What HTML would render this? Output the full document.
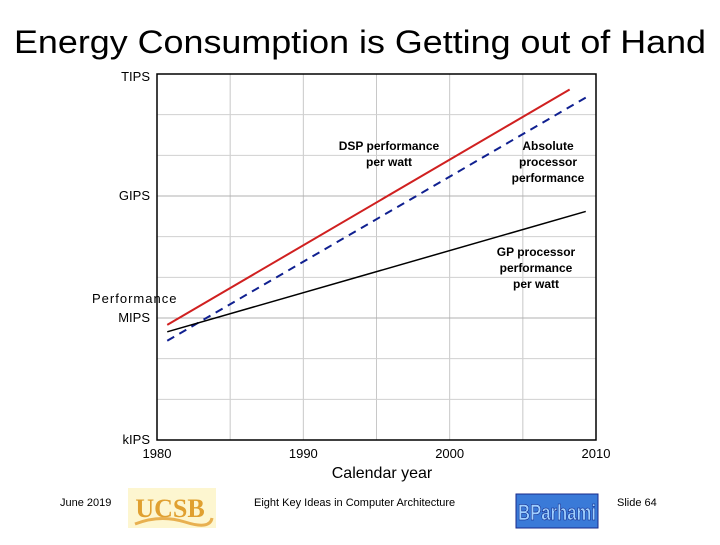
<!DOCTYPE html>
<html><head><meta charset="utf-8"><style>
body{margin:0;width:720px;height:540px;background:#fff;overflow:hidden;font-family:"Liberation Sans",sans-serif;}
</style></head><body>
<svg width="720" height="540" xmlns="http://www.w3.org/2000/svg" font-family="Liberation Sans, sans-serif">
<text x="360" y="53" text-anchor="middle" font-size="32" textLength="692" lengthAdjust="spacingAndGlyphs" fill="#000">Energy Consumption is Getting out of Hand</text>
<g id="grid"></g>
<rect x="157" y="74" width="439" height="366" fill="none" stroke="#000" stroke-width="1.5"/>
<g id="yt"></g>
<g id="xt"></g>
<g id="series"></g>
<text x="382" y="478" text-anchor="middle" font-size="16">Calendar year</text>
<text x="92" y="303" font-size="13" letter-spacing="1">Performance</text>
<g font-size="12" font-weight="bold" text-anchor="middle">
<text x="389" y="150"><tspan x="389">DSP performance</tspan><tspan x="389" dy="16">per watt</tspan></text>
<text x="548" y="150"><tspan x="548">Absolute</tspan><tspan x="548" dy="16">processor</tspan><tspan x="548" dy="16">performance</tspan></text>
<text x="536" y="256"><tspan x="536">GP processor</tspan><tspan x="536" dy="16">performance</tspan><tspan x="536" dy="16">per watt</tspan></text>
</g>
<g font-size="11">
<text x="60" y="506">June 2019</text>
<text x="254" y="506">Eight Key Ideas in Computer Architecture</text>
<text x="617" y="506">Slide 64</text>
</g>
<g>
<rect x="128" y="488" width="88" height="40" fill="#fdf6d0"/>
<text x="170" y="517" text-anchor="middle" font-family="Liberation Serif, serif" font-weight="bold" font-size="26" fill="#e0a030">UCSB</text>
<path d="M135 524 Q160 514 185 522 T212 518" stroke="#e8b050" stroke-width="3" fill="none"/>
</g>
<g>
<rect x="516" y="494" width="82" height="34" fill="#3a7ad8" stroke="#1a2a8a"/>
<text x="557" y="520" text-anchor="middle" font-size="22" font-weight="bold" textLength="78" lengthAdjust="spacingAndGlyphs" fill="#9fd0ff" stroke="#102080" stroke-width="0.6">BParhami</text>
</g>
</svg>
<script>
const yearTicks=[1980,1990,2000,2010];
const yLabels=["kIPS","MIPS","GIPS","TIPS"];
const yLogs=[3,6,9,12];
const seriesNames=["dsp-per-watt","absolute-performance","gp-per-watt"];
const startYears=[1980.7,1980.7,1980.7];
const endYears=[2008.2,2009.3,2009.3];
const startVals=[5.83,5.44,5.66];
const endVals=[11.62,11.42,8.62];
const NS="http://www.w3.org/2000/svg";
const X=y=>157+(y-1980)*(439/30);
const Y=v=>440-(v-3)*(366/9);
function mk(t,a,p){const e=document.createElementNS(NS,t);for(const k in a)e.setAttribute(k,a[k]);p.appendChild(e);return e;}
const grid=document.getElementById('grid');
for(let yr=1985;yr<2010;yr+=5){const l=mk('line',{x1:X(yr),x2:X(yr),y1:74,y2:440,stroke:'#c8c8c8'},grid);

}
for(let v=4;v<12;v++){const l=mk('line',{x1:157,x2:596,y1:Y(v),y2:Y(v),stroke:v%3==0?'#b0b0b0':'#d0d0d0'},grid);

}
const yt=document.getElementById('yt');
yLabels.forEach((s,i)=>{const t=mk('text',{x:150,y:Y(yLogs[i])+(i==3?7:4),'text-anchor':'end','font-size':13},yt);t.textContent=s;

});
const xt=document.getElementById('xt');
yearTicks.forEach(yr=>{const t=mk('text',{x:X(yr),y:458,'text-anchor':'middle','font-size':13},xt);t.textContent=yr;

});
const sg=document.getElementById('series');
const styles=[{stroke:'#d02020','stroke-width':2},{stroke:'#102090','stroke-width':2,'stroke-dasharray':'8,6'},{stroke:'#000','stroke-width':1.5}];
seriesNames.forEach((n,i)=>{const a=Object.assign({x1:X(startYears[i]),y1:Y(startVals[i]),x2:X(endYears[i]),y2:Y(endVals[i])},styles[i]);
const l=mk('line',a,sg);

});
</script>
</body></html>
